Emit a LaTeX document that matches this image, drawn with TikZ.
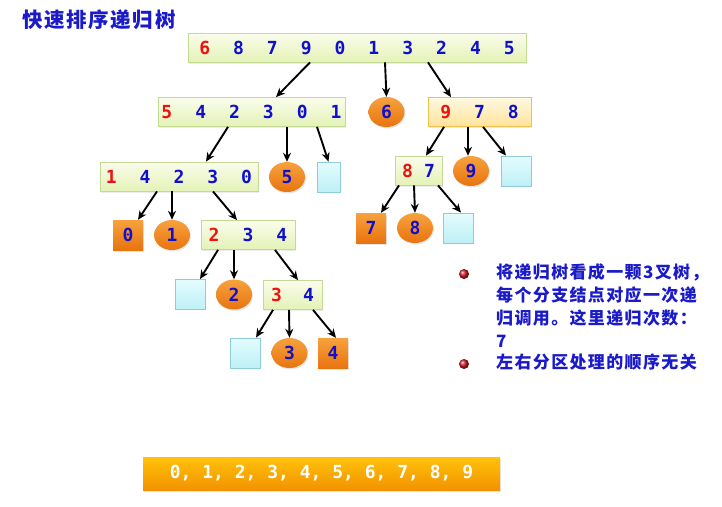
\documentclass[tikz,border=0pt]{standalone}
\usepackage{fontspec}
\setmonofont{DejaVu Sans Mono}
\newfontfamily\cjk[LetterSpace=8]{Noto Sans CJK SC}
\usetikzlibrary{arrows.meta,shapes.geometric,shadows}

\definecolor{numblue}{HTML}{1010CC}
\definecolor{numred}{HTML}{F01010}
\definecolor{txtblue}{HTML}{1A1AC8}
\definecolor{rowtop}{HTML}{FAFDEC}
\definecolor{rowbot}{HTML}{E4F2B6}
\definecolor{rowline}{HTML}{C4DA94}
\definecolor{hottop}{HTML}{FFF9E2}
\definecolor{hotbot}{HTML}{FFE39A}
\definecolor{hotline}{HTML}{F2C04C}
\definecolor{orgtop}{HTML}{F7A23E}
\definecolor{orgbot}{HTML}{E8740F}
\definecolor{niltop}{HTML}{E4FCFE}
\definecolor{nilbot}{HTML}{BDF0F6}
\definecolor{nilline}{HTML}{8FCBDA}
\definecolor{sumtop}{HTML}{FFC20A}
\definecolor{sumbot}{HTML}{F39200}
\definecolor{bulred}{HTML}{D01820}

\newcommand{\rd}[1]{\textcolor{numred}{#1}}
\newcommand{\gap}{\hspace{23pt}}

\begin{document}
\begin{tikzpicture}[x=1pt,y=-1pt,
	arr/.style={-{Stealth[length=9pt,width=8pt]},line width=1.9pt},
	dig/.style={font=\ttfamily\bfseries\fontsize{18}{18}\selectfont,text=numblue,inner sep=0pt},
	row/.style={dig,draw=rowline,line width=.8pt,top color=rowtop,bottom color=rowbot,minimum height=29pt,
		drop shadow={opacity=.15,shadow xshift=1pt,shadow yshift=-1.5pt}},
	hot/.style={row,draw=hotline,top color=hottop,bottom color=hotbot},
	ball/.style={dig,ellipse,minimum width=36pt,minimum height=30pt,top color=orgtop,bottom color=orgbot,
		drop shadow={opacity=.2,shadow xshift=1pt,shadow yshift=-1.5pt}},
	blk/.style={dig,minimum width=30pt,minimum height=30pt,top color=orgtop,bottom color=orgbot,
		drop shadow={opacity=.2,shadow xshift=1pt,shadow yshift=-1.5pt}},
	nil/.style={draw=nilline,line width=.8pt,top color=niltop,bottom color=nilbot,minimum width=30pt,minimum height=30pt,inner sep=0pt},
	bul/.style={circle,inner sep=0pt,minimum size=10pt,ball color=bulred},
	note/.style={font=\cjk\bfseries\fontsize{17}{23}\selectfont,text=txtblue,align=left,inner sep=0pt},
	sum/.style={dig,text=white,minimum width=357pt,minimum height=33pt,top color=sumtop,bottom color=sumbot,
		drop shadow={opacity=.2,shadow xshift=1pt,shadow yshift=-2pt}}]
	\useasboundingbox (0,0) rectangle (722,506);
	\node[anchor=west,font=\cjk\bfseries\fontsize{20.5}{20.5}\selectfont,text=txtblue,inner sep=0pt] (title) at (22,20) {快速排序递归树};

	\node[row,minimum width=338pt] (all) at (357,47.5) {\rd6\gap8\gap7\gap9\gap0\gap1\gap3\gap2\gap4\gap5};
	\node[row,minimum width=187pt] (lt) at (251.5,112) {\rd5\gap4\gap2\gap3\gap0\gap1};
	\node[ball] (p6) at (386.5,112) {6};
	\node[hot,minimum width=103pt] (rt) at (479.5,112) {\rd9\gap7\gap8};
	\node[row,minimum width=158pt] (ltl) at (179,176.5) {\rd1\gap4\gap2\gap3\gap0};
	\node[ball] (p5) at (287,177) {5};
	\node[nil,minimum width=23pt] (n1) at (328.5,177) {};
	\node[row,minimum width=47pt] (rtl) at (418.5,170.5) {\rd8\hspace{11pt}7};
	\node[ball] (p9) at (471,171) {9};
	\node[nil] (n2) at (516,171) {};
	\node[blk] (p7) at (371,228) {7};
	\node[ball] (p8) at (415,228) {8};
	\node[nil] (n3) at (458.5,228) {};
	\node[blk] (p0) at (128,235) {0};
	\node[ball] (p1) at (172,235) {1};
	\node[row,minimum width=94pt] (mid) at (248,235) {\rd2\gap3\gap4};
	\node[nil] (n4) at (190,294.5) {};
	\node[ball] (p2) at (234,294.5) {2};
	\node[row,minimum width=59pt] (low) at (292.5,295) {\rd3\hspace{21pt}4};
	\node[nil] (n5) at (245.5,353) {};
	\node[ball] (p3) at (289.5,353) {3};
	\node[blk] (p4) at (333,353) {4};

	\draw[arr] ([xshift=-47pt]all.south) -- ([xshift=24.5pt]lt.north);
	\draw[arr] ([xshift=28pt]all.south) -- (p6.north);
	\draw[arr] ([xshift=71pt]all.south) -- ([xshift=-28.5pt]rt.north);
	\draw[arr] ([xshift=-23.5pt]lt.south) -- ([xshift=27pt]ltl.north);
	\draw[arr] ([xshift=35.5pt]lt.south) -- (p5.north);
	\draw[arr] ([xshift=65.5pt]lt.south) -- (n1.north);
	\draw[arr] ([xshift=-35.5pt]rt.south) -- ([xshift=7.5pt]rtl.north);
	\draw[arr] ([xshift=-11.5pt]rt.south) -- ([xshift=-3pt]p9.north);
	\draw[arr] ([xshift=3.5pt]rt.south) -- ([xshift=-10pt]n2.north);
	\draw[arr] ([xshift=-19.5pt]rtl.south) -- ([xshift=10pt]p7.north);
	\draw[arr] ([xshift=-4.5pt]rtl.south) -- (p8.north);
	\draw[arr] ([xshift=19.5pt]rtl.south) -- ([xshift=2.5pt]n3.north);
	\draw[arr] ([xshift=-22pt]ltl.south) -- ([xshift=10pt]p0.north);
	\draw[arr] ([xshift=-7pt]ltl.south) -- (p1.north);
	\draw[arr] ([xshift=34pt]ltl.south) -- ([xshift=-11pt]mid.north);
	\draw[arr] ([xshift=-30pt]mid.south) -- ([xshift=10pt]n4.north);
	\draw[arr] ([xshift=-14pt]mid.south) -- (p2.north);
	\draw[arr] ([xshift=27pt]mid.south) -- ([xshift=5.5pt]low.north);
	\draw[arr] ([xshift=-19.5pt]low.south) -- ([xshift=10.5pt]n5.north);
	\draw[arr] ([xshift=-3.5pt]low.south) -- (p3.north);
	\draw[arr] ([xshift=20.5pt]low.south) -- ([xshift=3pt]p4.north);

	\node[bul] (b1) at (464,274) {};
	\node[bul] (b2) at (464,364) {};
	\node[note,anchor=north west] (t1) at (496,263) {将递归树看成一颗3叉树，\\每个分支结点对应一次递\\归调用。这里递归次数：\\7};
	\node[note,anchor=north west] (t2) at (496,354) {左右分区处理的顺序无关};

	\node[sum] (res) at (321.5,473.5) {0, 1, 2, 3, 4, 5, 6, 7, 8, 9};
\end{tikzpicture}
\end{document}
